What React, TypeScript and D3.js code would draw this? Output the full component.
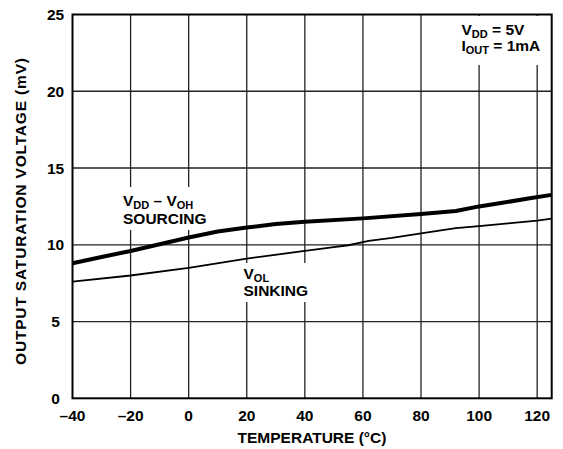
import React from "react";
import * as d3 from "d3";

const xTicks = [-40, -20, 0, 20, 40, 60, 80, 100, 120];
const yTicks = [0, 5, 10, 15, 20, 25];
const tempSource = [-40, -30, -20, -10, 0, 10, 20, 30, 40, 60, 80, 92, 100, 107, 118, 125];
const voltSource = [8.8, 9.2, 9.6, 10.03, 10.47, 10.86, 11.12, 11.35, 11.5, 11.72, 12.0, 12.2, 12.5, 12.7, 13.05, 13.25];
const tempSink = [-40, -20, 0, 20, 40, 50, 55, 62, 70, 80, 92, 100, 110, 120, 125];
const voltSink = [7.6, 8.0, 8.5, 9.1, 9.6, 9.85, 9.97, 10.25, 10.45, 10.75, 11.08, 11.22, 11.4, 11.58, 11.7];

const W = 563, H = 449;
const FONT = "'Liberation Sans', Arial, Helvetica, sans-serif";

export default function App() {
  const x = d3.scaleLinear().domain([-40, 125]).range([72.5, 551.7]);
  const y = d3.scaleLinear().domain([0, 25]).range([398.3, 14.5]);
  const line = d3.line<[number, number]>().x(d => x(d[0])).y(d => y(d[1]));
  const src = tempSource.map((t, i) => [t, voltSource[i]] as [number, number]);
  const snk = tempSink.map((t, i) => [t, voltSink[i]] as [number, number]);
  const fs = 15.5;
  const sub = 11;
  return (
    <svg width={W} height={H} style={{ position: "absolute", left: 0, top: 0 }} fontFamily={FONT} fontWeight="bold">
      <rect width={W} height={H} fill="#fff" />
      {xTicks.filter(t => t > -40).map(t => (
        <line key={"gx" + t} x1={x(t)} x2={x(t)} y1={y(0)} y2={y(25)} stroke="#222" strokeWidth={1.3} />
      ))}
      {yTicks.filter(t => t > 0 && t < 25).map(t => (
        <line key={"gy" + t} x1={x(-40)} x2={x(125)} y1={y(t)} y2={y(t)} stroke="#222" strokeWidth={1.3} />
      ))}
      <path d={line(snk) || ""} fill="none" stroke="#000" strokeWidth={1.8} />
      <path d={line(src) || ""} fill="none" stroke="#000" strokeWidth={4} strokeLinejoin="round" />
      {/* label backgrounds */}
      <rect x={459} y={16} width={88} height={49} fill="#fff" />
      <rect x={120} y={187} width={92} height={43} fill="#fff" />
      <rect x={240} y={263} width={76} height={39} fill="#fff" />
      <rect x={x(-40)} y={y(25)} width={x(125) - x(-40)} height={y(0) - y(25)} fill="none" stroke="#000" strokeWidth={2} />
      {xTicks.map(t => (
        <text key={"xt" + t} x={x(t)} y={421} textAnchor="middle" fontSize={fs}>
          {t < 0 ? "\u2013" + Math.abs(t) : String(t)}
        </text>
      ))}
      {yTicks.map(t => (
        <text key={"yt" + t} x={55.5} y={y(t) + 5.5} textAnchor="middle" fontSize={fs}>{t}</text>
      ))}
      <text x={312} y={443} textAnchor="middle" fontSize={fs}>TEMPERATURE (°C)</text>
      <text transform={`translate(25.5,211.5) rotate(-90)`} textAnchor="middle" fontSize={fs} textLength={307} lengthAdjust="spacing">OUTPUT SATURATION VOLTAGE (mV)</text>
      <text x={123} y={206} fontSize={fs}>
        V<tspan fontSize={sub} dy={3}>DD</tspan><tspan dy={-3}> – V</tspan><tspan fontSize={sub} dy={3}>OH</tspan>
      </text>
      <text x={123} y={223.5} fontSize={fs}>SOURCING</text>
      <text x={243.5} y={278.5} fontSize={fs}>
        V<tspan fontSize={sub} dy={3}>OL</tspan>
      </text>
      <text x={243.5} y={296} fontSize={fs}>SINKING</text>
      <text x={461.5} y={35} fontSize={fs}>
        V<tspan fontSize={sub} dy={2.5}>DD</tspan><tspan dy={-2.5}> = 5V</tspan>
      </text>
      <text x={461.5} y={51} fontSize={fs}>
        I<tspan fontSize={sub} dy={2.5}>OUT</tspan><tspan dy={-2.5}> = 1mA</tspan>
      </text>
    </svg>
  );
}
